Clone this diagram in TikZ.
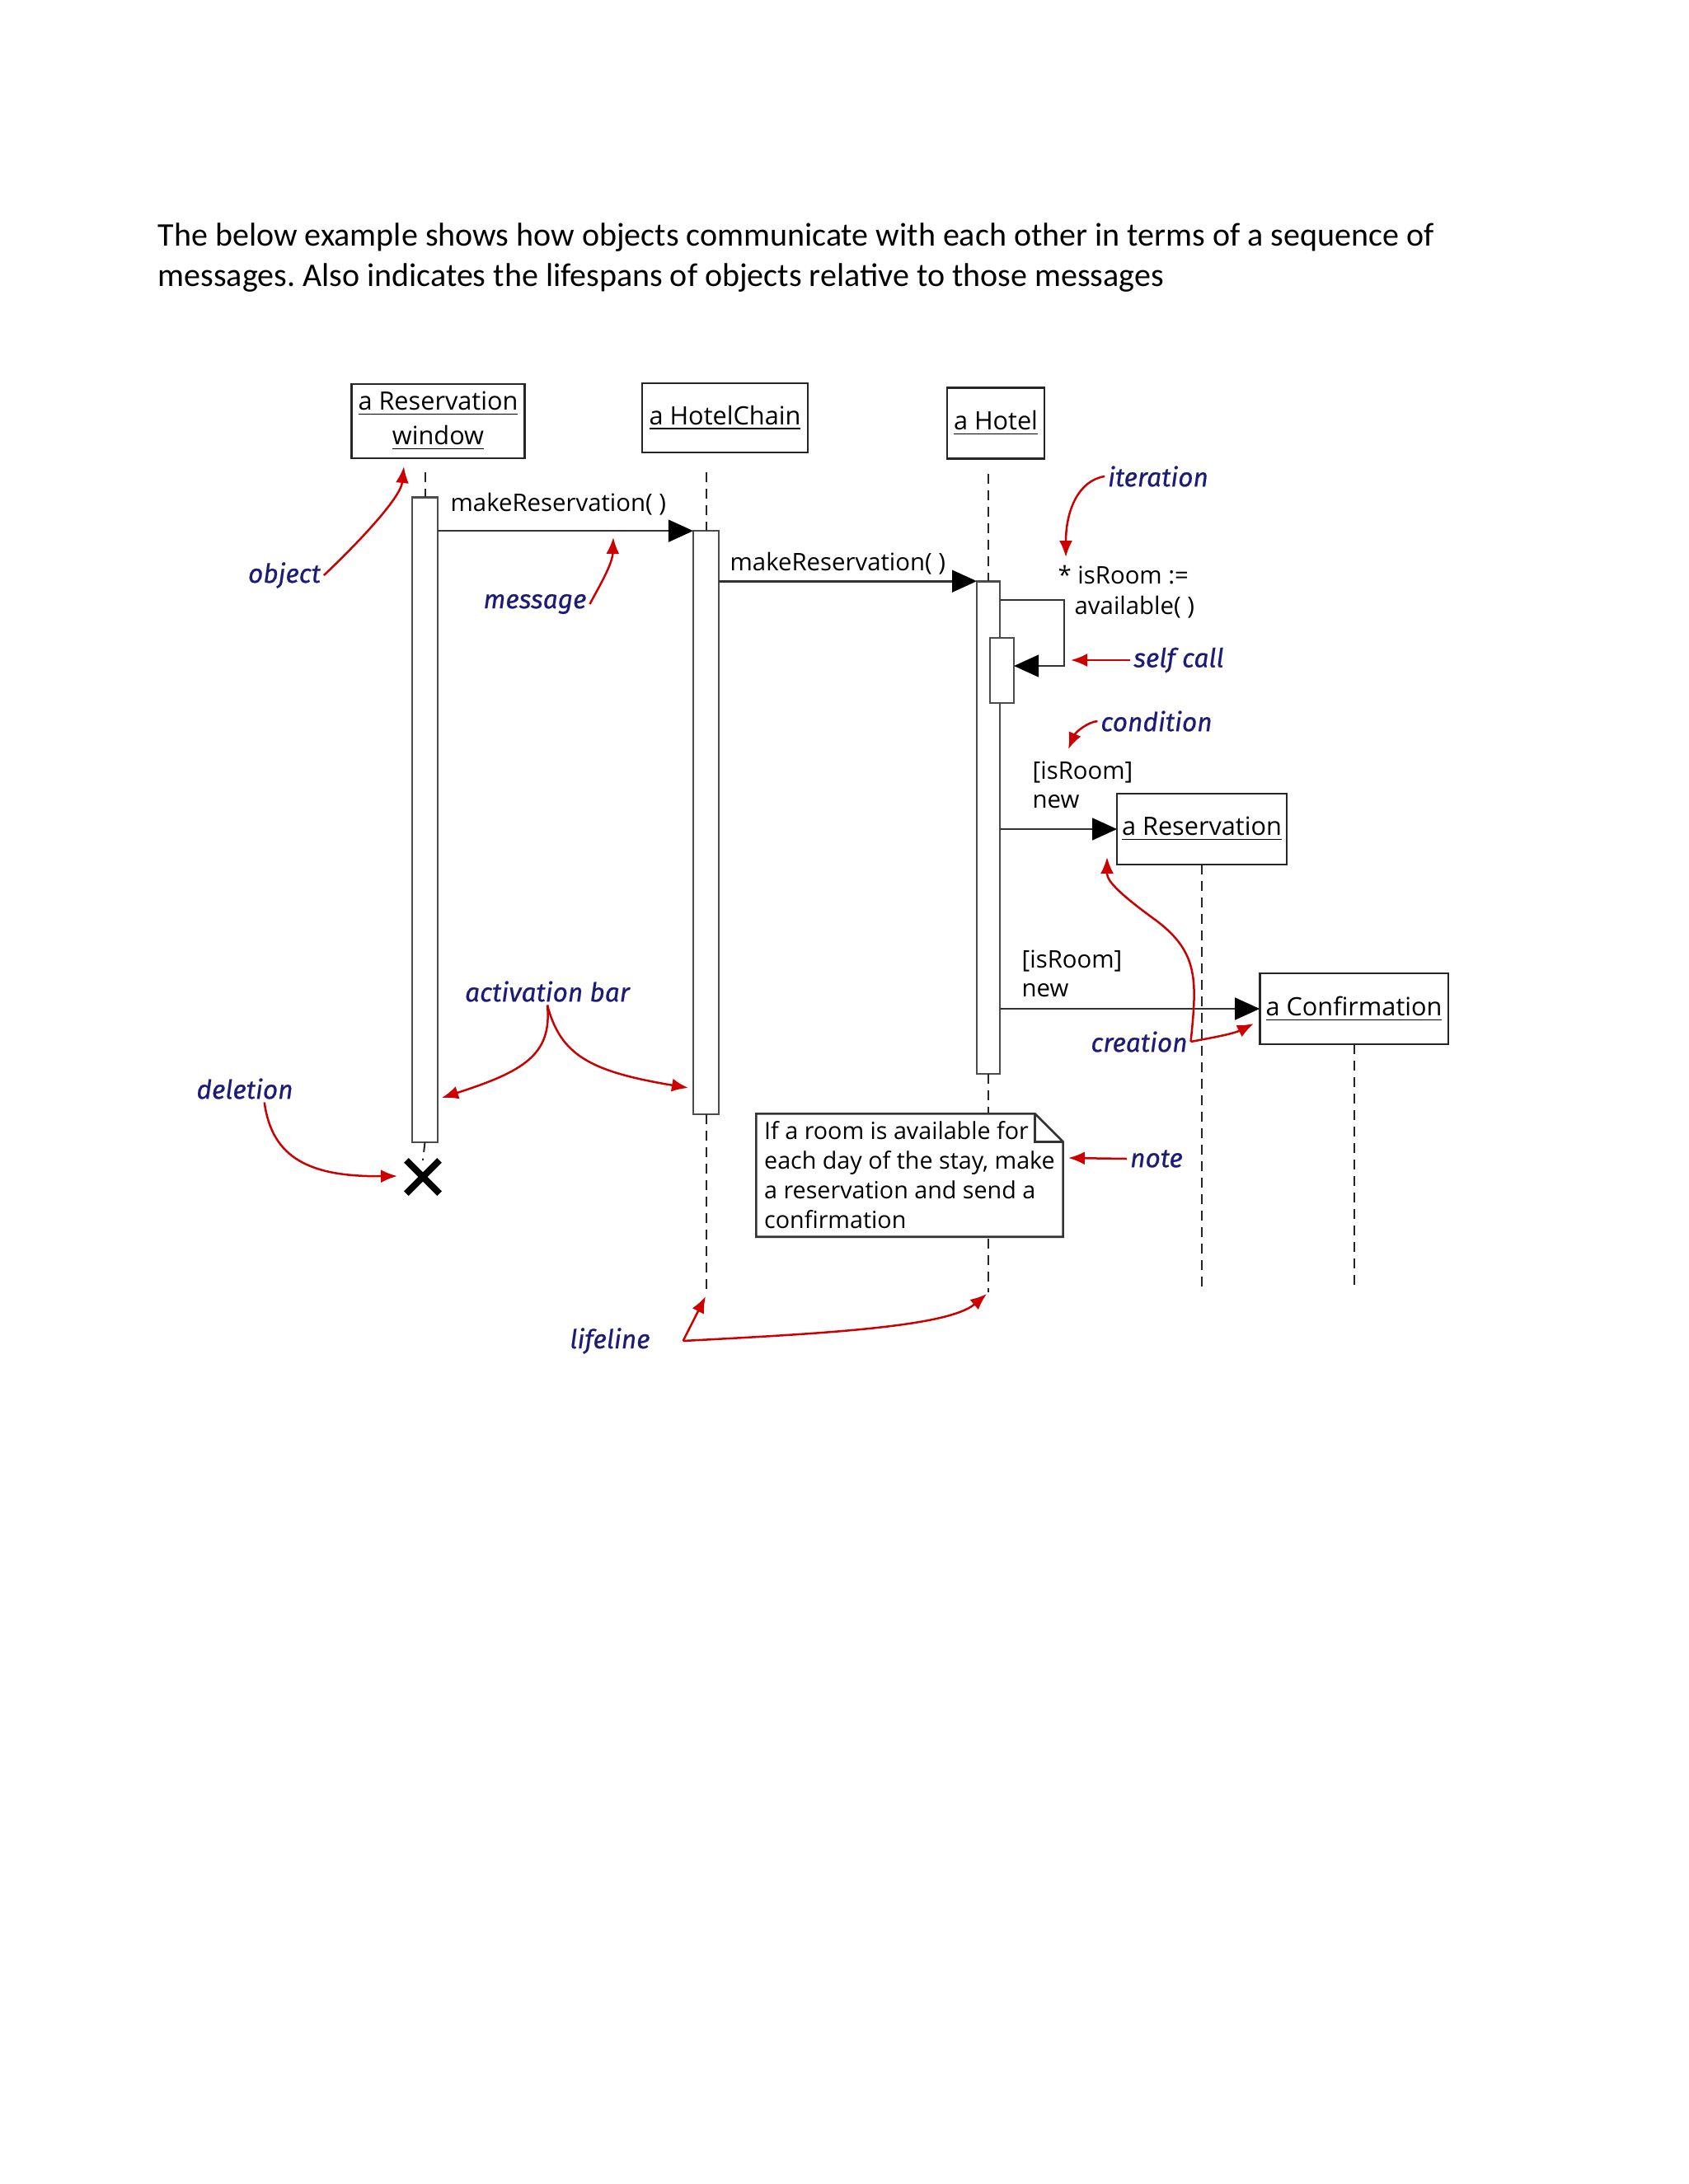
\documentclass[tikz,border=0pt]{standalone}
\usepackage{fontspec}
\setmainfont{Carlito}
\newfontfamily\umlfont{Open Sans}
\newfontfamily\annfont{Fira Sans}[ItalicFeatures={FakeBold=0.6}]
\usepackage{tikz}
\usetikzlibrary{arrows.meta,shapes.misc}
\definecolor{annred}{RGB}{204,0,0}
\definecolor{annblue}{RGB}{28,28,120}
\frenchspacing

\begin{document}
\begin{tikzpicture}[x=0.10541cm, y=0.10541cm,
  objbox/.style={draw=black!85, line width=0.8pt, fill=white, inner sep=1pt, outer sep=0pt, align=center, font=\umlfont\fontsize{9.2}{12.6}\selectfont},
  actbar/.style={draw=black!70, line width=0.8pt, fill=white, inner sep=0pt, outer sep=0pt},
  lifeline/.style={draw=black!85, line width=0.6pt, dash pattern=on 3.6pt off 2.4pt},
  msg/.style={draw=black!80, line width=0.8pt, -{Triangle[length=9pt,width=8pt,color=black]}},
  msgtext/.style={anchor=base west, inner sep=0pt, font=\umlfont\fontsize{8.8}{10}\selectfont},
  notebox/.style={draw=black!80, line width=0.8pt},
  ann/.style={text=annblue, inner sep=1pt, font=\annfont\itshape\fontsize{9.5}{11}\selectfont},
  callout/.style={draw=annred, line width=0.75pt, -{Latex[length=6pt,width=4.8pt]}},
  titletext/.style={anchor=base west, inner sep=0pt, font=\fontsize{12}{14.6}\selectfont}]

  \useasboundingbox (0,0) rectangle (204.8,-265);

  \node[titletext] (title1) at (19.1,-29.8) {The below example shows how objects communicate with each other in terms of a sequence of};
  \node[titletext] (title2) at (19.1,-34.7) {messages. Also indicates the lifespans of objects relative to those messages};

  \node[objbox, minimum width=2.22cm, minimum height=0.95cm] (win) at (53.15,-51.1) {\underline{a Reservation}\\\underline{window}};
  \node[objbox, minimum width=2.12cm, minimum height=0.885cm] (chain) at (87.95,-50.7) {\underline{a HotelChain}};
  \node[objbox, minimum width=1.245cm, minimum height=0.9cm] (hotel) at (120.8,-51.35) {\underline{a Hotel}};
  \node[objbox, minimum width=2.17cm, minimum height=0.905cm] (resv) at (145.8,-100.6) {\underline{a Reservation}};
  \node[objbox, minimum width=2.41cm, minimum height=0.905cm] (conf) at (164.25,-122.4) {\underline{a Confirmation}};

  \node[actbar, minimum width=0.327cm, minimum height=8.25cm] (bar1) at (51.55,-99.45) {};
  \node[actbar, minimum width=0.327cm, minimum height=7.46cm] (bar2) at (85.65,-99.8) {};
  \node[actbar, minimum width=0.295cm, minimum height=6.3cm] (bar3) at (119.9,-100.4) {};
  \node[actbar, minimum width=0.306cm, minimum height=0.833cm] (bar3s) at (121.55,-81.35) {};
  \node[draw, cross out, line width=2.4pt, minimum size=0.34cm, inner sep=0pt] (del) at (51.3,-142.8) {};

  \coordinate (ll1) at (51.55,-57.3);
  \coordinate (ll2) at (85.65,-57.3);
  \coordinate (ll3) at (119.9,-57.5);
  \draw[lifeline] (ll1) -- (bar1.north);
  \draw[lifeline] (ll2) -- (bar2.north);
  \draw[lifeline] (ll3) -- (bar3.north);
  \draw[lifeline] (bar1.south) -- (del.north);
  \draw[lifeline] (bar2.south) -- ++(0,-22.0);
  \draw[lifeline] (bar3.south) -- ++(0,-26.5);
  \draw[lifeline] (resv.south) -- ++(0,-51.4);
  \draw[lifeline] (conf.south) -- ++(0,-29.6);

  \node[fill=white, inner sep=0pt, minimum width=3.91cm, minimum height=1.56cm, align=left, font=\umlfont\fontsize{8.6}{10.8}\selectfont] (note) at (110.35,-142.6) {If a room is available for\\each day of the stay, make\\a reservation and send a\\confirmation};
  \draw[notebox] (note.south west) -- (note.north west) -- ([xshift=-0.36cm]note.north east) -- ([yshift=-0.36cm]note.north east) -- (note.south east) -- cycle;
  \draw[notebox] ([xshift=-0.36cm]note.north east) -- ([xshift=-0.36cm,yshift=-0.36cm]note.north east) -- ([yshift=-0.36cm]note.north east);

  \draw[msg] (bar1.east |- bar2.north) -- (bar2.north west);
  \node[msgtext] (m1) at (54.6,-62.0) {makeReservation( )};
  \draw[msg] (bar2.east |- bar3.north) -- (bar3.north west);
  \node[msgtext] (m2) at (88.5,-69.2) {makeReservation( )};

  \coordinate (s1) at (129.1,-72.8);
  \coordinate (s2) at (129.1,-80.8);
  \draw[msg] (bar3.east |- s1) -- (s1) -- (s2) -- (bar3s.east |- s2);
  \node[msgtext] (it1) at (128.3,-70.8) {* isRoom :=};
  \node[msgtext] (it2) at (130.3,-74.5) {available( )};

  \draw[msg] (bar3.east |- resv.west) -- (resv.west);
  \node[msgtext] (c1a) at (125.2,-94.5) {[isRoom]};
  \node[msgtext] (c1b) at (125.2,-98.0) {new};
  \draw[msg] (bar3.east |- conf.west) -- (conf.west);
  \node[msgtext] (c2a) at (123.9,-117.4) {[isRoom]};
  \node[msgtext] (c2b) at (123.9,-120.9) {new};

  \node[ann] (objl) at (34.5,-69.8) {object};
  \node[ann] (msgl) at (64.9,-73.3) {message};
  \node[ann] (iterl) at (140.5,-57.8) {iteration};
  \node[ann] (selfl) at (143.0,-80.1) {self call};
  \node[ann] (condl) at (140.3,-87.5) {condition};
  \node[ann] (creal) at (138.2,-126.4) {creation};
  \node[ann] (notel) at (140.3,-140.6) {note};
  \node[ann] (actl) at (66.4,-120.3) {activation bar};
  \node[ann] (dell) at (29.7,-132.1) {deletion};
  \node[ann] (lifel) at (74.0,-162.7) {lifeline};

  \coordinate (objtip) at (49.0,-56.6);
  \coordinate (msgtip) at (74.4,-65.2);
  \coordinate (itertip) at (129.3,-67.6);
  \coordinate (selftip) at (129.9,-80.1);
  \coordinate (condtip) at (129.6,-90.9);
  \coordinate (resvtip) at (134.3,-104.0);
  \coordinate (conftip) at (152.1,-124.2);
  \coordinate (notetip) at (129.6,-140.5);
  \coordinate (act1tip) at (53.6,-133.2);
  \coordinate (act2tip) at (83.5,-132.0);
  \coordinate (deltip) at (48.2,-142.7);
  \coordinate (life2tip) at (85.6,-157.3);
  \coordinate (life3tip) at (119.7,-157.0);

  \draw[callout] (objl.east) .. controls (43,-66.3) and (48.6,-60.5) .. (objtip);
  \draw[callout] (msgl.east) .. controls (72.5,-71.5) and (74.3,-68.5) .. (msgtip);
  \draw[callout] (iterl.west) .. controls (130.8,-58.3) and (129.3,-62) .. (itertip);
  \draw[callout] (selfl.west) -- (selftip);
  \draw[callout] (condl.west) .. controls (132.0,-87.6) and (130.5,-88.8) .. (condtip);
  \draw[callout] (creal.east) .. controls (145.2,-119) and (145.5,-115.5) .. (140.0,-111.5) .. controls (134.5,-107.5) and (134.3,-106.5) .. (resvtip);
  \draw[callout] (creal.east) .. controls (146.5,-126.0) and (149.5,-125.5) .. (conftip);
  \draw[callout] (notel.west) -- (notetip);
  \draw[callout] (actl.south) .. controls (67.0,-128.0) and (63.5,-130.0) .. (act1tip);
  \draw[callout] (actl.south) .. controls (68.0,-128.0) and (71.5,-130.0) .. (act2tip);
  \draw[callout] ([xshift=0.25cm]dell.south) .. controls (33.0,-140.5) and (37.5,-142.8) .. (deltip);
  \draw[callout] ([xshift=0.38cm]lifel.east) -- (life2tip);
  \draw[callout] ([xshift=0.38cm]lifel.east) .. controls (100,-161.8) and (115,-161.0) .. (life3tip);
\end{tikzpicture}
\end{document}
